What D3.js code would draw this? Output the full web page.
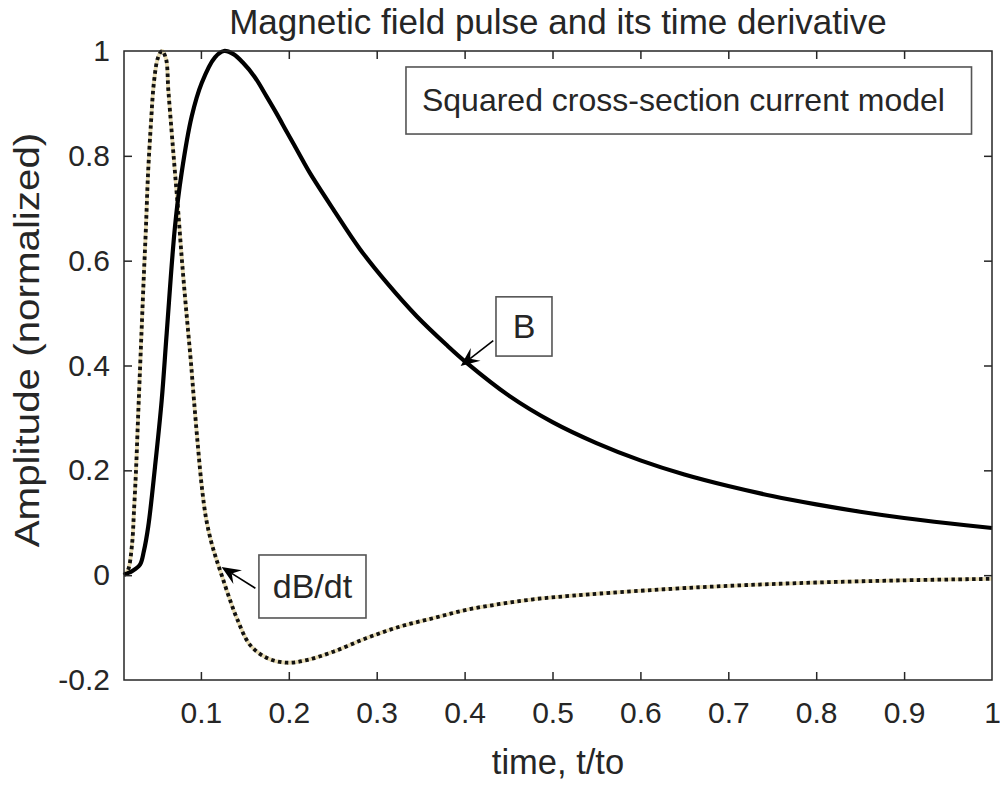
<!DOCTYPE html>
<html>
<head>
<meta charset="utf-8">
<script src="https://cdn.jsdelivr.net/npm/d3@7"></script>
<style>
  html, body { margin: 0; padding: 0; background: #ffffff; }
  svg { display: block; }
  text { font-family: "Liberation Sans", Arial, Helvetica, sans-serif; fill: #262626; }
</style>
</head>
<body>
<svg id="chart" width="1000" height="785"></svg>
<script>
// Normalized time samples and amplitudes of the field pulse B
const timeB = [0.0125, 0.017, 0.022, 0.0307, 0.035, 0.0401, 0.0478, 0.0554, 0.0611, 0.0705,
  0.0781, 0.0895, 0.1009, 0.116, 0.1263, 0.137, 0.1482, 0.161, 0.1748, 0.186,
  0.1976, 0.211, 0.2241, 0.2506, 0.281, 0.3114, 0.3455, 0.3796, 0.4024, 0.45,
  0.5, 0.55, 0.6, 0.65, 0.7, 0.75, 0.8, 0.85, 0.9, 0.95, 1.0];
const valueB = [0.001, 0.004, 0.008, 0.02, 0.045, 0.093, 0.207, 0.334, 0.462, 0.665,
  0.768, 0.875, 0.939, 0.988, 1.0, 0.994, 0.977, 0.951, 0.913, 0.881,
  0.846, 0.806, 0.767, 0.698, 0.622, 0.558, 0.494, 0.439, 0.405, 0.343,
  0.292, 0.252, 0.219, 0.192, 0.17, 0.151, 0.135, 0.121, 0.109, 0.099, 0.09];

// Time samples and amplitudes of its time derivative dB/dt
const timeD = [0.0125, 0.0171, 0.0216, 0.0239, 0.0262, 0.0284, 0.0307, 0.033, 0.0352, 0.0375,
  0.0398, 0.0432, 0.0466, 0.0511, 0.0557, 0.0603, 0.0629, 0.0668, 0.0705, 0.0743,
  0.0781, 0.0819, 0.0853, 0.0887, 0.0921, 0.0967, 0.1012, 0.1058, 0.1115, 0.1171,
  0.124, 0.132, 0.1411, 0.1558, 0.1752, 0.198, 0.2203, 0.2506, 0.2886, 0.3265,
  0.3644, 0.4024, 0.4403, 0.4781, 0.5161, 0.554, 0.6678, 0.7815, 0.8953, 1.0];
const valueD = [0.0, 0.01, 0.058, 0.124, 0.201, 0.296, 0.392, 0.487, 0.577, 0.665,
  0.764, 0.863, 0.941, 0.987, 1.0, 0.985, 0.926, 0.844, 0.768, 0.691,
  0.607, 0.531, 0.468, 0.405, 0.334, 0.244, 0.166, 0.109, 0.065, 0.033,
  -0.002, -0.042, -0.083, -0.133, -0.158, -0.167, -0.162, -0.146, -0.12, -0.098,
  -0.082, -0.066, -0.055, -0.046, -0.04, -0.035, -0.023, -0.015, -0.01, -0.007];

// Axis ticks and their labels
const xTicks = [0.1, 0.2, 0.3, 0.4, 0.5, 0.6, 0.7, 0.8, 0.9, 1];
const xTickLabels = ["0.1", "0.2", "0.3", "0.4", "0.5", "0.6", "0.7", "0.8", "0.9", "1"];
const yTicks = [-0.2, 0, 0.2, 0.4, 0.6, 0.8, 1];
const yTickLabels = ["-0.2", "0", "0.2", "0.4", "0.6", "0.8", "1"];

// Text
const titleText = "Magnetic field pulse and its time derivative";
const xLabelText = "time, t/to";
const yLabelText = "Amplitude (normalized)";
const noteText = "Squared cross-section current model";
const labelB = "B";
const labelD = "dB/dt";

const svg = d3.select("#chart");
const plot = { left: 124, right: 992, top: 51, bottom: 680 };

const x = d3.scaleLinear().domain([0.0125, 1]).range([plot.left, plot.right]);
const y = d3.scaleLinear().domain([-0.2, 1]).range([plot.bottom, plot.top]);

const axisColor = "#262626";
const tickLen = 8;

// Curves
const line = d3.line().x(d => x(d[0])).y(d => y(d[1])).curve(d3.curveCatmullRom.alpha(0.5));
const ptsB = timeB.map((t, i) => [t, valueB[i]]);
const ptsD = timeD.map((t, i) => [t, valueD[i]]);

const curves = svg.append("g");
curves.append("path").datum(ptsD).attr("d", line)
  .attr("fill", "none").attr("stroke", "#d4bb6c").attr("stroke-width", 3.8).attr("opacity", 0.5);
curves.append("path").datum(ptsD).attr("d", line)
  .attr("fill", "none").attr("stroke", "#111").attr("stroke-width", 3.8)
  .attr("stroke-dasharray", "3.5,3.4");
curves.append("path").datum(ptsB).attr("d", line)
  .attr("fill", "none").attr("stroke", "#000").attr("stroke-width", 4.2)
  .attr("stroke-linejoin", "round");

// Axes box with inward ticks on all four sides
const axes = svg.append("g");
axes.append("rect")
  .attr("x", plot.left).attr("y", plot.top)
  .attr("width", plot.right - plot.left).attr("height", plot.bottom - plot.top)
  .attr("fill", "none").attr("stroke", axisColor).attr("stroke-width", 1.5);

const xAxisB = d3.axisBottom(x).tickValues(xTicks).tickSizeInner(-tickLen).tickSizeOuter(0)
  .tickFormat((d, i) => xTickLabels[i]).tickPadding(22);
const gxb = axes.append("g").attr("transform", `translate(0,${plot.bottom})`).call(xAxisB);
const xAxisT = d3.axisTop(x).tickValues(xTicks).tickSizeInner(-tickLen).tickSizeOuter(0).tickFormat("");
const gxt = axes.append("g").attr("transform", `translate(0,${plot.top})`).call(xAxisT);
const yAxisL = d3.axisLeft(y).tickValues(yTicks).tickSizeInner(-tickLen).tickSizeOuter(0)
  .tickFormat((d, i) => yTickLabels[i]).tickPadding(14);
const gyl = axes.append("g").attr("transform", `translate(${plot.left},0)`).call(yAxisL);
const yAxisR = d3.axisRight(y).tickValues(yTicks).tickSizeInner(-tickLen).tickSizeOuter(0).tickFormat("");
const gyr = axes.append("g").attr("transform", `translate(${plot.right},0)`).call(yAxisR);

[gxb, gxt, gyl, gyr].forEach(g => {
  g.select(".domain").remove();
  g.selectAll(".tick line").attr("stroke", axisColor).attr("stroke-width", 1.5);
  g.selectAll(".tick text").attr("font-size", 30).attr("fill", axisColor)
    .attr("font-family", "'Liberation Sans', Arial, sans-serif");
});
// hide ticks that coincide with the box edges
gxb.selectAll(".tick").filter(d => d === 1).select("line").remove();
gxt.selectAll(".tick").filter(d => d === 1).select("line").remove();
gyl.selectAll(".tick").filter(d => d === 1 || d === -0.2).select("line").remove();
gyr.selectAll(".tick").filter(d => d === 1 || d === -0.2).select("line").remove();

// Title and axis labels
svg.append("text").attr("x", (plot.left + plot.right) / 2).attr("y", 34)
  .attr("text-anchor", "middle").attr("font-size", 35).text(titleText);
svg.append("text").attr("x", (plot.left + plot.right) / 2).attr("y", 774)
  .attr("text-anchor", "middle").attr("font-size", 34.5).text(xLabelText);
svg.append("text").attr("transform", "translate(39,340) rotate(-90) scale(1.12,1)")
  .attr("text-anchor", "middle").attr("font-size", 36).text(yLabelText);

// Text box with the model name
const note = svg.append("g");
note.append("rect")
  .attr("x", x(0.3333)).attr("y", y(0.9695))
  .attr("width", x(0.9767) - x(0.3333)).attr("height", y(0.8416) - y(0.9695))
  .attr("fill", "#fff").attr("stroke", "#555").attr("stroke-width", 1.6);
note.append("text").attr("x", x(0.3333) + 16).attr("y", y(0.8416) - 23)
  .attr("font-size", 32).text(noteText);

// Arrow annotations pointing at the curves
function annotate(tip, tail, box, label) {
  const g = svg.append("g");
  const p1 = [x(tail[0]), y(tail[1])];
  const p2 = [x(tip[0]), y(tip[1])];
  const ang = Math.atan2(p2[1] - p1[1], p2[0] - p1[0]);
  const L = 19, W = 8, back = 12;
  const ux = Math.cos(ang), uy = Math.sin(ang);
  const px = -uy, py = ux;
  const base = [p2[0] - ux * L, p2[1] - uy * L];
  const notch = [p2[0] - ux * back, p2[1] - uy * back];
  g.append("line").attr("x1", p1[0]).attr("y1", p1[1]).attr("x2", notch[0]).attr("y2", notch[1])
    .attr("stroke", "#000").attr("stroke-width", 1.6);
  g.append("path")
    .attr("d", `M${p2[0]},${p2[1]} L${base[0] + px * W},${base[1] + py * W} L${notch[0]},${notch[1]} L${base[0] - px * W},${base[1] - py * W} Z`)
    .attr("fill", "#000");
  const bx0 = x(box[0]), bx1 = x(box[1]), by0 = y(box[2]), by1 = y(box[3]);
  g.append("rect").attr("x", bx0).attr("y", by0).attr("width", bx1 - bx0).attr("height", by1 - by0)
    .attr("fill", "#fff").attr("stroke", "#555").attr("stroke-width", 1.6);
  g.append("text").attr("x", (bx0 + bx1) / 2).attr("y", (by0 + by1) / 2 + 12)
    .attr("text-anchor", "middle").attr("font-size", 34).text(label);
}
annotate([0.3955, 0.399], [0.4326, 0.4475], [0.4357, 0.4994, 0.531, 0.418], labelB);
annotate([0.1235, 0.0156], [0.162, -0.025], [0.166, 0.2878, 0.0385, -0.0817], labelD);
</script>
</body>
</html>
